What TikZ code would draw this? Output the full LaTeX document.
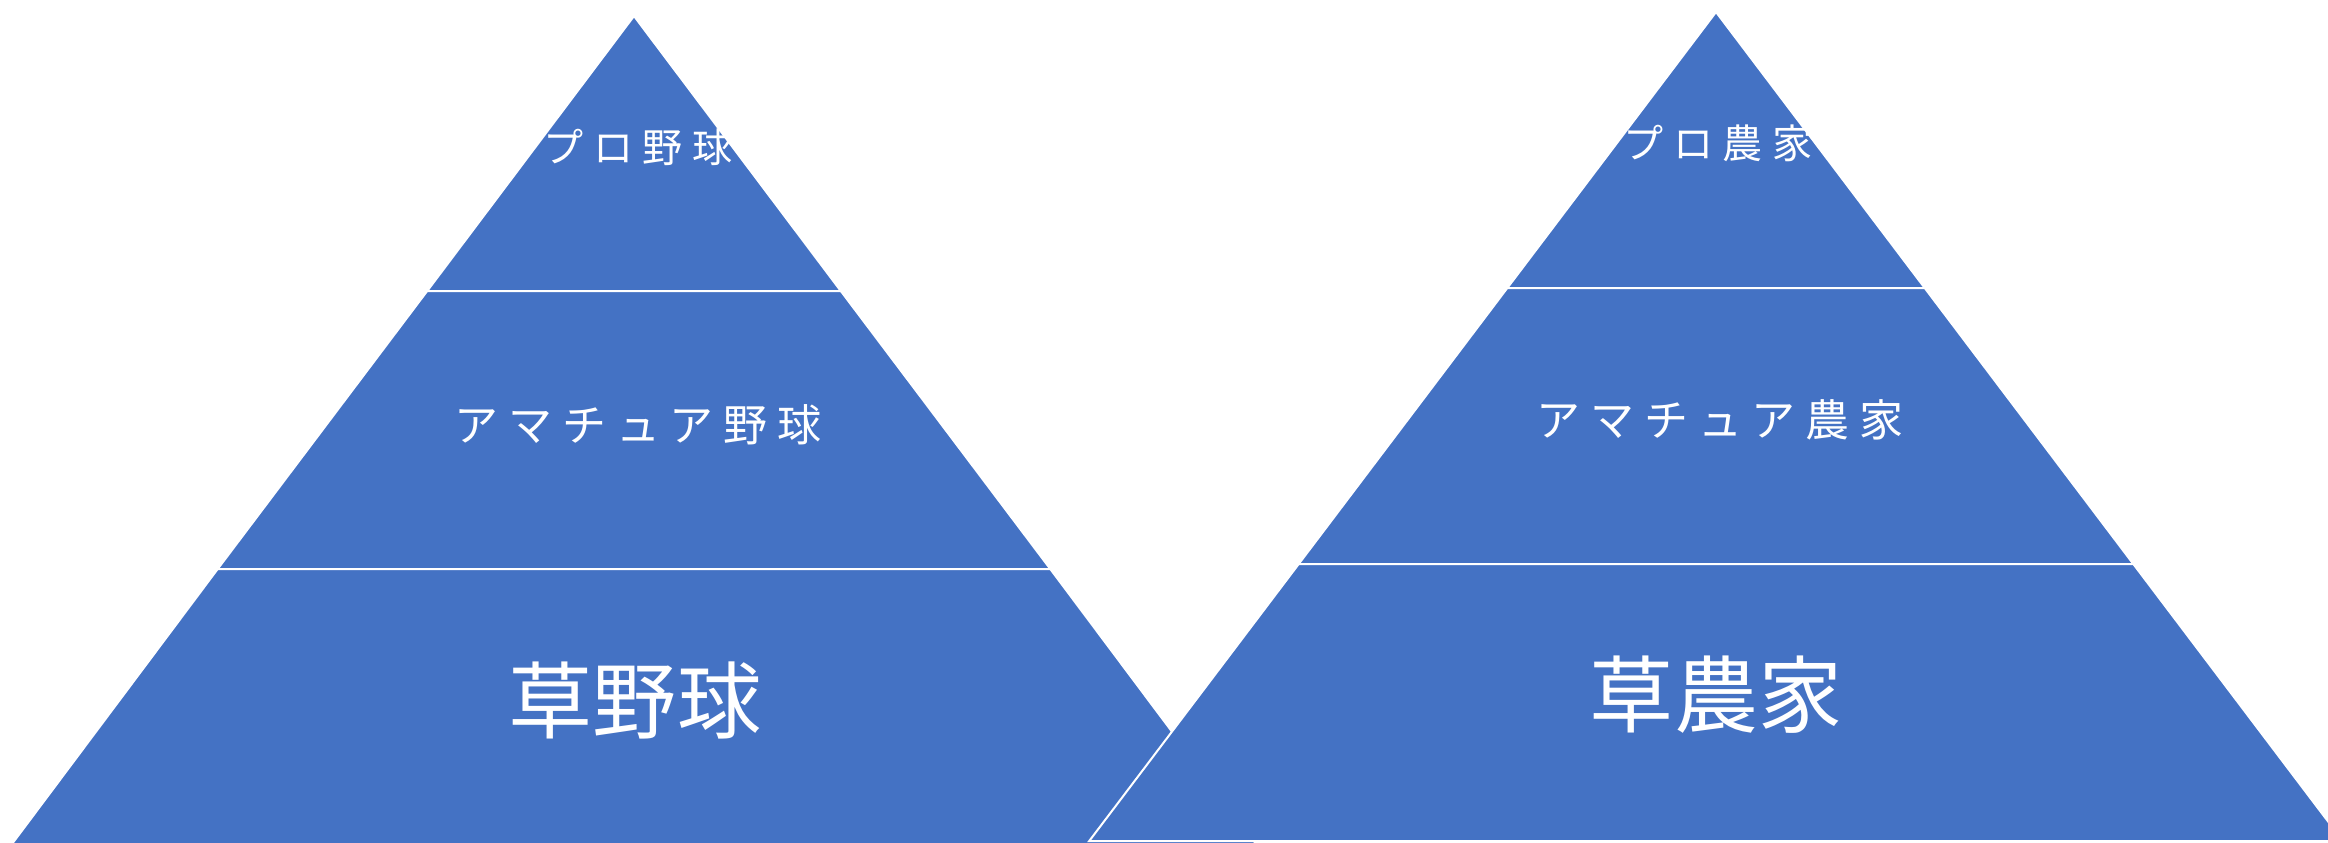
\documentclass[tikz,border=0pt]{standalone}
\usepackage{fontspec}
\newfontfamily\jpfont{Noto Sans CJK JP}
\newfontfamily\jptopsp{Noto Sans CJK JP}[LetterSpace=24]
\newfontfamily\jpmidsp{Noto Sans CJK JP}[LetterSpace=23]
\definecolor{pyrblue}{HTML}{4472C4}
\tikzset{
  level/.style={fill=pyrblue, draw=white, line width=0.02cm, line join=miter},
  toplbl/.style={text=white, inner sep=0pt, font=\jptopsp\fontsize{11.4}{13}\selectfont},
  midlbl/.style={text=white, inner sep=0pt, font=\jpmidsp\fontsize{12.5}{14}\selectfont},
  botlbl/.style={text=white, inner sep=0pt, font=\jpfont\fontsize{23.9}{28}\selectfont}
}
\begin{document}
\begin{tikzpicture}[x=0.01cm, y=-0.01cm]
\useasboundingbox (0,0) rectangle (2328,842);
\clip (0,0) rectangle (2328,842);
% left pyramid
\filldraw[level] (634,16) -- (840.8,291) -- (427.2,291) -- cycle;
\filldraw[level] (427.2,291) -- (840.8,291) -- (1050.3,569) -- (217.7,569) -- cycle;
\filldraw[level] (217.7,569) -- (1050.3,569) -- (1262,852) -- (6,852) -- cycle;
\node[toplbl] (lpro) at (638,147) {プロ野球};
\node[midlbl] (lama) at (638,425) {アマチュア野球};
\node[botlbl] (lkusa) at (635,700) {草野球};
% right pyramid
\filldraw[level] (1716,12) -- (1924.7,288) -- (1507.3,288) -- cycle;
\filldraw[level] (1507.3,288) -- (1924.7,288) -- (2133.3,564) -- (1298.7,564) -- cycle;
\filldraw[level] (1298.7,564) -- (2133.3,564) -- (2342.8,841) -- (1089.2,841) -- cycle;
\node[toplbl] (rpro) at (1718,143) {プロ農家};
\node[midlbl] (rama) at (1720,420) {アマチュア農家};
\node[botlbl] (rkusa) at (1716,695) {草農家};
\end{tikzpicture}
\end{document}
